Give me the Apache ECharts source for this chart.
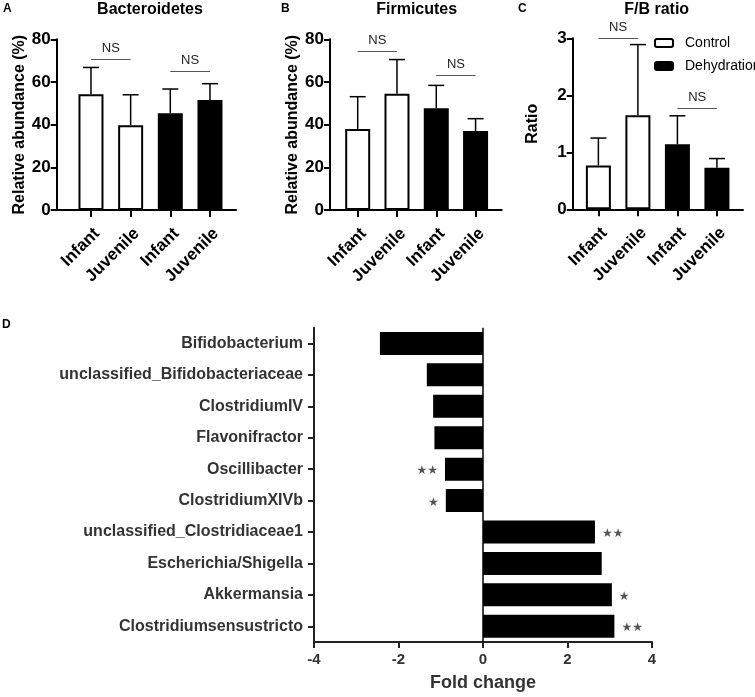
<!DOCTYPE html>
<html>
<head>
<meta charset="utf-8">
<title>Gut microbiota</title>
<script src="https://cdn.jsdelivr.net/npm/echarts@6/dist/echarts.min.js"></script>
</head>
<body style="margin:0;background:#fff">
<div id="main" style="width:755px;height:697px;"></div>
<script>
// ---- data ----
var groups = ['Infant', 'Juvenile', 'Infant', 'Juvenile'];
var treatments = ['Control', 'Control', 'Dehydration', 'Dehydration'];

var bactMean = [54.2, 39.7, 45.3, 51.6];
var bactUpper = [66.8, 54.0, 56.7, 59.2];
var firmMean = [38.0, 54.5, 47.7, 37.0];
var firmUpper = [53.1, 70.5, 58.4, 42.8];
var ratioMean = [0.77, 1.65, 1.14, 0.73];
var ratioUpper = [1.25, 2.89, 1.64, 0.89];

// NS brackets: [from group, to group, height]
var bactNS = [[0, 1, 70.8], [2, 3, 65.2]];
var firmNS = [[0, 1, 74.5], [2, 3, 63.1]];
var ratioNS = [[0, 1, 3.0], [2, 3, 1.77]];

var genera = ['Bifidobacterium', 'unclassified_Bifidobacteriaceae', 'ClostridiumIV', 'Flavonifractor',
  'Oscillibacter', 'ClostridiumXIVb', 'unclassified_Clostridiaceae1', 'Escherichia/Shigella',
  'Akkermansia', 'Clostridiumsensustricto'];
var foldChange = [-2.44, -1.33, -1.18, -1.15, -0.90, -0.88, 2.65, 2.81, 3.05, 3.11];
var signif = ['', '', '', '', '★★', '★', '★★', '', '★', '★★'];

// ---- layout ----
var FONT = "'Liberation Sans', Arial, sans-serif";
var panels = [
  { letter: 'A', letterX: 3, title: 'Bacteroidetes', titleX: 150, yName: 'Relative abundance (%)',
    mean: bactMean, upper: bactUpper, ns: bactNS, yMax: 80, yStep: 20, nameGap: 29,
    grid: { left: 56.7, top: 39.3, width: 179.3, height: 170.7 }, xMax: 4.52, first: 0.864 },
  { letter: 'B', letterX: 281, title: 'Firmicutes', titleX: 416.7, yName: 'Relative abundance (%)',
    mean: firmMean, upper: firmUpper, ns: firmNS, yMax: 80, yStep: 20, nameGap: 29,
    grid: { left: 330, top: 39.3, width: 171.7, height: 170.7 }, xMax: 4.37, first: 0.705 },
  { letter: 'C', letterX: 518, title: 'F/B ratio', titleX: 656.7, yName: 'Ratio',
    mean: ratioMean, upper: ratioUpper, ns: ratioNS, yMax: 3, yStep: 1, nameGap: 32,
    grid: { left: 572.7, top: 38.3, width: 170.3, height: 171 }, xMax: 4.31, first: 0.65 }
];

function errorItem(params, api) {
  var x = api.value(0);
  var base = api.coord([x, api.value(1)]);
  var top = api.coord([x, api.value(2)]);
  var st = { stroke: '#000', lineWidth: 1.5 };
  return {
    type: 'group',
    children: [
      { type: 'line', shape: { x1: base[0], y1: base[1], x2: top[0], y2: top[1] }, style: st },
      { type: 'line', shape: { x1: top[0] - 8, y1: top[1], x2: top[0] + 8, y2: top[1] }, style: st }
    ]
  };
}

var grids = [], xAxes = [], yAxes = [], series = [], graphics = [];

panels.forEach(function (p, pi) {
  var pos = groups.map(function (g, k) { return p.first + k; });
  grids.push(p.grid);
  xAxes.push({
    type: 'value', gridIndex: pi, min: 0, max: p.xMax,
    splitLine: { show: false },
    axisLine: { show: true, lineStyle: { color: '#000', width: 2 } },
    axisTick: { show: true, customValues: pos, length: 7, lineStyle: { color: '#000', width: 2 } },
    axisLabel: {
      customValues: pos, rotate: 45, margin: 15, verticalAlign: 'top',
      fontSize: 17, fontWeight: 'bold', color: '#000', fontFamily: FONT,
      formatter: function (v) { return groups[Math.round(v - p.first)]; }
    }
  });
  yAxes.push({
    type: 'value', gridIndex: pi, min: 0, max: p.yMax, interval: p.yStep,
    name: p.yName, nameLocation: 'middle', nameGap: p.nameGap,
    nameTextStyle: { fontSize: 16, fontWeight: 'bold', color: '#000', fontFamily: FONT },
    splitLine: { show: false },
    axisLine: { show: true, lineStyle: { color: '#000', width: 2 } },
    axisTick: { show: true, length: 6, lineStyle: { color: '#000', width: 2 } },
    axisLabel: { fontSize: 17, fontWeight: 'bold', color: '#000', margin: 6, fontFamily: FONT }
  });

  ['Control', 'Dehydration'].forEach(function (t) {
    var data = [];
    p.mean.forEach(function (v, k) { if (treatments[k] === t) data.push([pos[k], v]); });
    var s = {
      name: t, type: 'bar', xAxisIndex: pi, yAxisIndex: pi, barWidth: 25, barGap: '-100%',
      data: data, z: 2,
      itemStyle: t === 'Control'
        ? { color: '#fff', borderColor: '#000', borderWidth: 2 }
        : { color: '#000', borderColor: '#000', borderWidth: 2 }
    };
    if (t === 'Control') {
      s.markLine = {
        silent: true, symbol: ['none', 'none'], animation: false,
        lineStyle: { color: '#555', width: 1, type: 'solid' },
        label: { show: true, position: 'middle', formatter: 'NS', distance: 4, fontSize: 13, color: '#222', fontFamily: FONT },
        data: p.ns.map(function (b) {
          return [{ coord: [pos[b[0]], b[2]] }, { coord: [pos[b[1]], b[2]] }];
        })
      };
    }
    series.push(s);
  });

  series.push({
    type: 'custom', xAxisIndex: pi, yAxisIndex: pi, z: 3, renderItem: errorItem,
    data: p.mean.map(function (v, k) { return [pos[k], v, p.upper[k]]; })
  });

  graphics.push({ type: 'text', x: p.letterX, y: 9, style: { text: p.letter, font: 'bold 12px ' + FONT, fill: '#000', verticalAlign: 'middle' } });
  graphics.push({ type: 'text', x: p.titleX, y: 10, style: { text: p.title, font: 'bold 16px ' + FONT, fill: '#000', align: 'center', verticalAlign: 'middle' } });
});

// ---- panel D ----
grids.push({ left: 314, top: 327.7, width: 338, height: 314.3 });
xAxes.push({
  type: 'value', gridIndex: 3, min: -4, max: 4, interval: 2,
  name: 'Fold change', nameLocation: 'middle', nameGap: 32,
  nameTextStyle: { fontSize: 18, fontWeight: 'bold', color: '#333', fontFamily: FONT },
  splitLine: { show: false },
  axisLine: { show: true, lineStyle: { color: '#222', width: 2 } },
  axisTick: { show: true, length: 6, lineStyle: { color: '#222', width: 2 } },
  axisLabel: { fontSize: 15, fontWeight: 'bold', color: '#333', margin: 10, fontFamily: FONT }
});
yAxes.push({
  type: 'category', gridIndex: 3, data: genera, inverse: true,
  axisLine: { show: true, onZero: false, lineStyle: { color: '#222', width: 2 } },
  axisTick: { show: true, alignWithLabel: true, length: 6, lineStyle: { color: '#222', width: 2 } },
  axisLabel: { fontSize: 16, fontWeight: 'bold', color: '#333', margin: 11, fontFamily: FONT }
});
series.push({
  type: 'bar', xAxisIndex: 3, yAxisIndex: 3, barWidth: 23,
  itemStyle: { color: '#000' },
  data: foldChange.map(function (v) {
    return { value: v, label: { position: v < 0 ? 'left' : 'right' } };
  }),
  label: {
    show: true, distance: 7, fontSize: 12, color: '#555', offset: [0, 2], fontFamily: 'DejaVu Sans',
    formatter: function (d) { return signif[d.dataIndex]; }
  },
  markLine: {
    silent: true, symbol: ['none', 'none'], animation: false, label: { show: false },
    lineStyle: { color: '#000', width: 1.5, type: 'solid' },
    data: [{ xAxis: 0 }]
  }
});
graphics.push({ type: 'text', x: 2, y: 325, style: { text: 'D', font: 'bold 12px ' + FONT, fill: '#000', verticalAlign: 'middle' } });

var myChart = echarts.init(document.getElementById('main'));
var option = {
  animation: false,
  backgroundColor: '#fff',
  textStyle: { fontFamily: FONT },
  legend: {
    data: ['Control', 'Dehydration'], orient: 'vertical', left: 654, top: 36,
    itemWidth: 18, itemHeight: 8, itemGap: 9, selectedMode: false, padding: 0,
    textStyle: { fontSize: 14, color: '#000', fontFamily: FONT, padding: [0, 0, 0, 7] }
  },
  grid: grids,
  xAxis: xAxes,
  yAxis: yAxes,
  series: series,
  graphic: graphics
};
myChart.setOption(option);
</script>
</body>
</html>
